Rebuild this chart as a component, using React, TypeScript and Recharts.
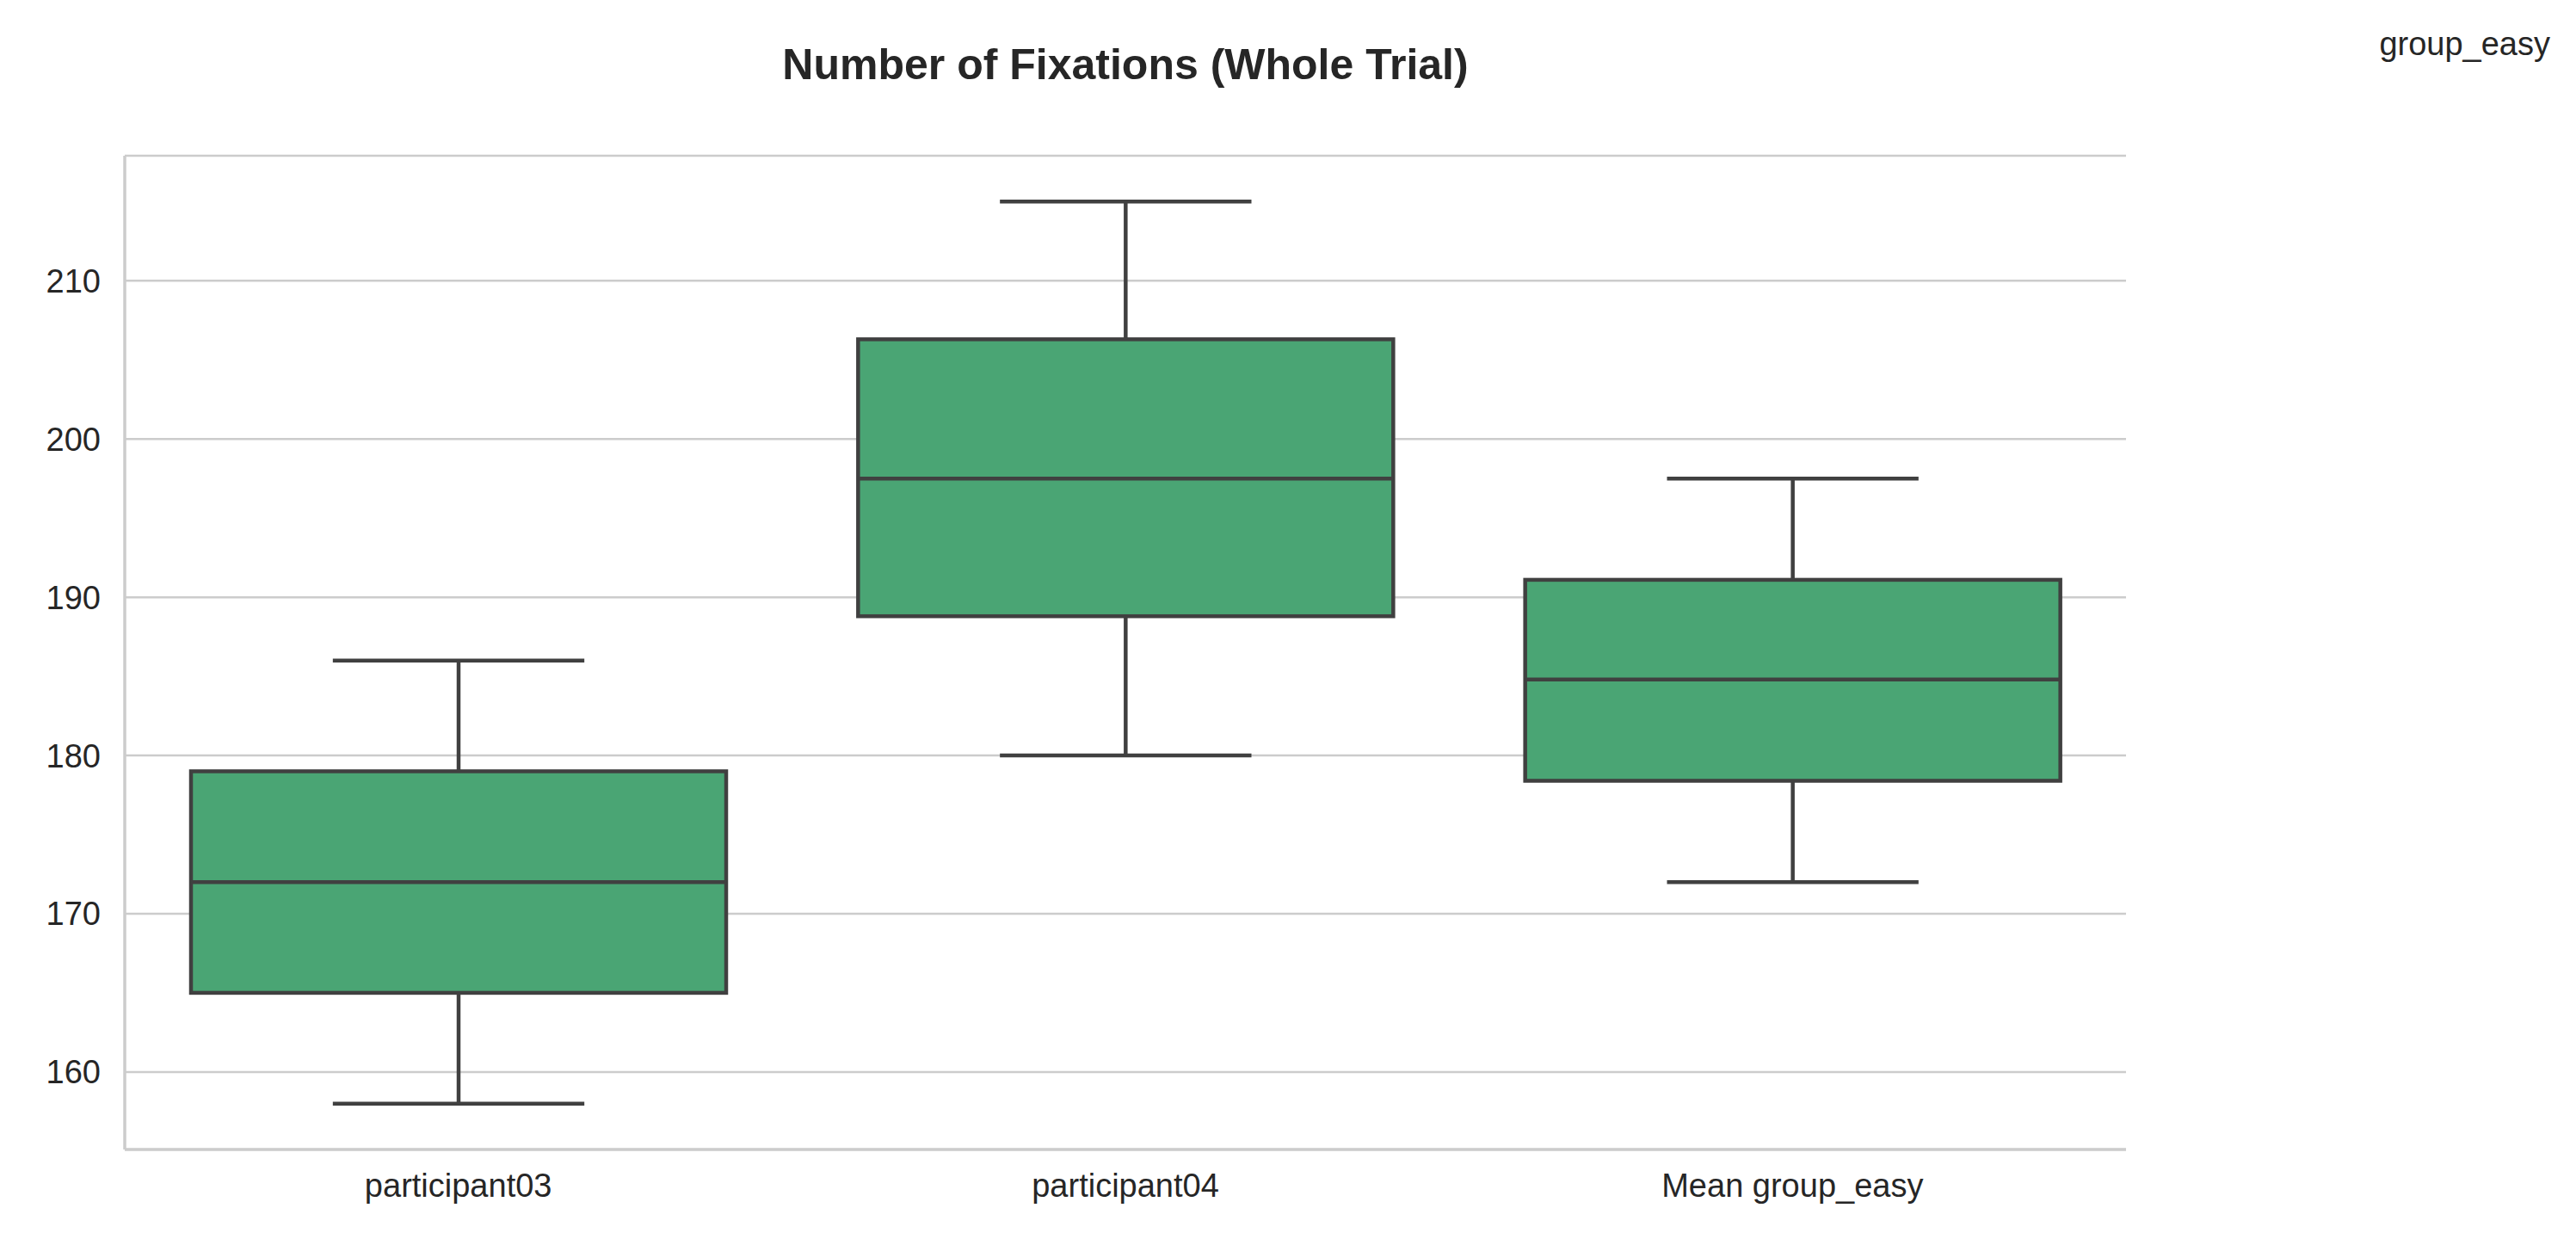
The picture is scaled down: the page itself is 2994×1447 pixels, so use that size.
import React from "react";
import { ComposedChart, Bar, XAxis, YAxis, CartesianGrid } from "recharts";

const categories = ["participant03", "participant04", "Mean group_easy"];
const whiskerLow = [158, 180, 172];
const q1 = [165, 188.8, 178.4];
const median = [172, 197.5, 184.8];
const q3 = [179, 206.3, 191.1];
const whiskerHigh = [186, 215, 197.5];
const yTicks = [160, 170, 180, 190, 200, 210];

const data = categories.map((name, i) => ({
  name,
  range: [whiskerLow[i], whiskerHigh[i]],
  lo: whiskerLow[i],
  q1: q1[i],
  med: median[i],
  q3: q3[i],
  hi: whiskerHigh[i],
}));

const FILL = "#4aa574";
const LINE = "#404040";
const SW = 4.5;

function BoxShape(props: any) {
  const { x, y, width, height, payload } = props;
  const { lo, hi } = payload;
  const py = (v: number) => y + height - ((v - lo) / (hi - lo)) * height;
  const cx = x + width / 2;
  const capW = width * 0.47;
  return (
    <g>
      <line x1={cx} x2={cx} y1={py(hi)} y2={py(lo)} stroke={LINE} strokeWidth={SW} />
      <line x1={cx - capW / 2} x2={cx + capW / 2} y1={py(hi)} y2={py(hi)} stroke={LINE} strokeWidth={SW} />
      <line x1={cx - capW / 2} x2={cx + capW / 2} y1={py(lo)} y2={py(lo)} stroke={LINE} strokeWidth={SW} />
      <rect x={x} y={py(payload.q3)} width={width} height={py(payload.q1) - py(payload.q3)} fill={FILL} stroke={LINE} strokeWidth={SW} />
      <line x1={x} x2={x + width} y1={py(payload.med)} y2={py(payload.med)} stroke={LINE} strokeWidth={SW} />
    </g>
  );
}

export default function App() {
  const font = "'Liberation Sans', Arial, sans-serif";
  return (
    <div style={{ position: "absolute", left: 0, top: 0, width: 2994, height: 1447, background: "#fff", fontFamily: font }}>
      <div style={{ position: "absolute", left: 145, width: 2326, top: 46, textAlign: "center", fontSize: 50, fontWeight: "bold", color: "#262626" }}>
        Number of Fixations (Whole Trial)
      </div>
      <div style={{ position: "absolute", right: 30, top: 30, fontSize: 38, color: "#262626" }}>group_easy</div>
      <ComposedChart width={2994} height={1447} data={data} margin={{ top: 181, right: 523, bottom: 0, left: 0 }} barCategoryGap="10%">
        <CartesianGrid vertical={false} stroke="#cccccc" strokeWidth={2.5} />
        <XAxis dataKey="name" height={111} axisLine={{ stroke: "#cccccc", strokeWidth: 3.5 }} tickLine={false}
          tick={{ fontSize: 38, fill: "#262626", fontFamily: font }} tickMargin={22} />
        <XAxis xAxisId="top" orientation="top" dataKey="name" height={0} tick={false} tickLine={false}
          axisLine={{ stroke: "#cccccc", strokeWidth: 3.5 }} />
        <YAxis domain={[155.1, 217.9]} ticks={yTicks} width={145} axisLine={{ stroke: "#cccccc", strokeWidth: 3.5 }} tickLine={false}
          tick={{ fontSize: 38, fill: "#262626", fontFamily: font }} tickMargin={22} allowDataOverflow />
        <YAxis yAxisId="right" orientation="right" domain={[155.1, 217.9]} width={0} tick={false} tickLine={false}
          axisLine={{ stroke: "#cccccc", strokeWidth: 3.5 }} />
        <Bar dataKey="range" shape={BoxShape} isAnimationActive={false} barSize={622} />
      </ComposedChart>
    </div>
  );
}
